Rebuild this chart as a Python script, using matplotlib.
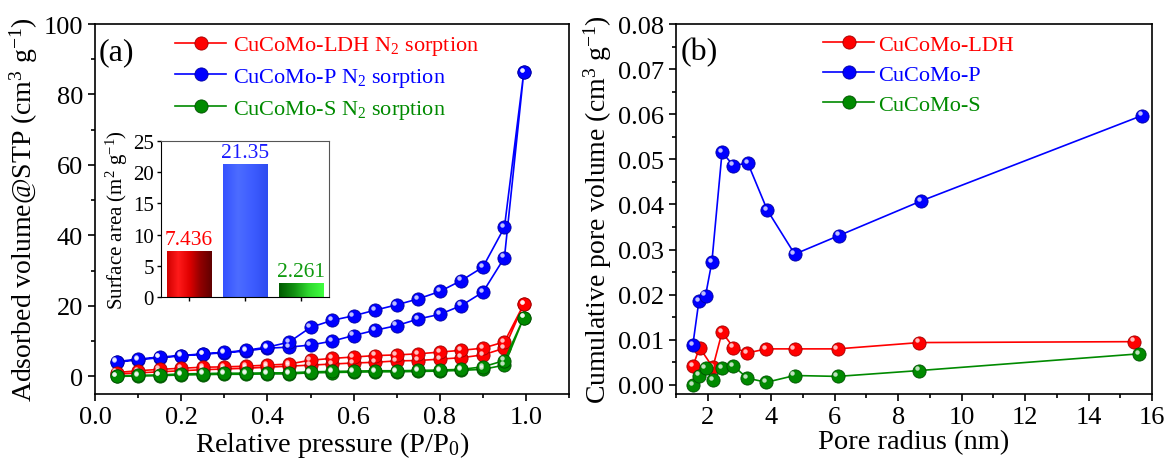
import numpy as np
import matplotlib
matplotlib.use("Agg")
import matplotlib.pyplot as plt
from matplotlib.ticker import MultipleLocator, FormatStrFormatter
from matplotlib.colors import LinearSegmentedColormap
from matplotlib.transforms import offset_copy

plt.rcParams["font.family"] = ["Liberation Serif", "DejaVu Serif"]
plt.rcParams["mathtext.fontset"] = "custom"
plt.rcParams["mathtext.rm"] = "Liberation Serif"
plt.rcParams["mathtext.it"] = "Liberation Serif:italic"

# ================================
# DATA (a) N2 sorption isotherms
# ================================
p_rel = [0.05, 0.10, 0.15, 0.20, 0.25, 0.30, 0.35, 0.40, 0.45, 0.50,
         0.55, 0.60, 0.65, 0.70, 0.75, 0.80, 0.85, 0.90, 0.95, 0.995]

ldh_ads = [0.6, 1.0, 1.3, 1.6, 1.9, 2.1, 2.3, 2.6, 2.9, 3.2,
           3.5, 3.8, 4.0, 4.4, 4.5, 4.9, 5.3, 6.1, 8.0, 20.5]
ldh_des = [1.1, 1.6, 2.0, 2.3, 2.6, 2.7, 2.9, 3.2, 3.5, 4.6,
           5.1, 5.5, 5.9, 6.1, 6.4, 6.9, 7.4, 8.0, 9.8, 20.5]

p_ads = [4.0, 4.7, 5.3, 5.8, 6.3, 6.7, 7.2, 8.0, 8.3, 8.9,
         10.0, 11.6, 13.1, 14.4, 16.3, 17.6, 20.1, 23.9, 33.7, 86.4]
p_des = [4.2, 4.9, 5.5, 5.9, 6.4, 6.8, 7.4, 8.3, 9.7, 13.9,
         15.9, 17.2, 18.8, 20.3, 22.0, 24.1, 27.2, 31.0, 42.3, 86.4]

s_ads = [0.0, 0.1, 0.2, 0.4, 0.5, 0.6, 0.6, 0.7, 0.7, 1.0,
         1.1, 1.2, 1.3, 1.3, 1.4, 1.5, 1.7, 2.0, 3.2, 16.7]
s_des = [0.1, 0.3, 0.4, 0.7, 0.8, 0.9, 0.9, 1.0, 1.0, 1.3,
         1.4, 1.5, 1.6, 1.6, 1.7, 1.8, 2.0, 2.7, 4.5, 16.7]

# inset: BET surface area
samples = ["CuCoMo-LDH", "CuCoMo-P", "CuCoMo-S"]
surface_area = [7.436, 21.35, 2.261]
area_labels = ["7.436", "21.35", "2.261"]

# ================================
# DATA (b) cumulative pore volume
# ================================
r_ldh = [1.53, 1.74, 2.16, 2.45, 2.81, 3.25, 3.85, 4.74, 6.09, 8.67, 15.43]
v_ldh = [0.0041, 0.0083, 0.0039, 0.0117, 0.0083, 0.0071, 0.0080, 0.0080, 0.0080, 0.0094, 0.0096]

r_p = [1.53, 1.72, 1.93, 2.13, 2.45, 2.81, 3.26, 3.88, 4.74, 6.13, 8.73, 15.68]
v_p = [0.0089, 0.0186, 0.0198, 0.0273, 0.0516, 0.0486, 0.0492, 0.0387, 0.0290, 0.0331, 0.0408, 0.0597]

r_s = [1.53, 1.72, 1.93, 2.16, 2.45, 2.81, 3.25, 3.85, 4.74, 6.09, 8.67, 15.59]
v_s = [0.0000, 0.0021, 0.0037, 0.0010, 0.0037, 0.0042, 0.0015, 0.0006, 0.0021, 0.0019, 0.0032, 0.0069]

RED, BLUE, GREEN = "#ff0000", "#0000ff", "#008a00"
EDGE = {RED: "#a00000", BLUE: "#0000a0", GREEN: "#005000"}


def balls(ax, x, y, color, label=None, z=3):
    # line + sphere-looking markers
    ln, = ax.plot(x, y, "-o", color=color, lw=1.2, ms=9.5, mfc=color,
                  mec=EDGE[color], mew=0.6, label=label, zorder=z)
    hl = offset_copy(ax.transData, fig=fig, x=-1.6, y=1.6, units="points")
    ax.plot(x, y, "o", ms=3.2, color="white", alpha=0.75, mec="none",
            transform=hl, zorder=z + 0.1)
    return ln


def style(ax):
    for s in ax.spines.values():
        s.set_linewidth(1.2)
    ax.tick_params(which="both", direction="out", top=False, right=False,
                   width=1.2, labelsize=19)
    ax.tick_params(which="major", length=5)
    ax.tick_params(which="minor", length=3)


fig = plt.figure(figsize=(11.69, 4.64), dpi=100)

# ================================
# PANEL (a)
# ================================
ax1 = fig.add_axes([0.0813, 0.1487, 0.4055, 0.7974])
loop_x = p_rel + p_rel[::-1]
h_p = balls(ax1, loop_x, p_ads + p_des[::-1], BLUE, "CuCoMo-P N$_2$ sorption", z=3)
h_l = balls(ax1, loop_x, ldh_ads + ldh_des[::-1], RED, "CuCoMo-LDH N$_2$ sorption", z=4)
h_s = balls(ax1, loop_x, s_ads + s_des[::-1], GREEN, "CuCoMo-S N$_2$ sorption", z=5)

ax1.set_xlim(0, 1.1)
ax1.set_ylim(-5, 100)
ax1.xaxis.set_minor_locator(MultipleLocator(0.1))
ax1.yaxis.set_major_locator(MultipleLocator(20))
ax1.yaxis.set_minor_locator(MultipleLocator(10))
ax1.set_xticks([0.0, 0.2, 0.4, 0.6, 0.8, 1.0])
ax1.set_xticklabels(["0.0", "0.2", "0.4", "0.6", "0.8", "1.0"])
style(ax1)
ax1.set_xlabel("Relative pressure (P/P$_0$)", fontsize=20.5, labelpad=1)
ax1.set_ylabel("Adsorbed volume@STP (cm$^3$ g$^{-1}$)", fontsize=20, labelpad=3)
ax1.text(0.008, 0.925, "(a)", transform=ax1.transAxes, fontsize=23,
         ha="left", va="center")

leg1 = ax1.legend(handles=[h_l, h_p, h_s], loc="upper left",
                  bbox_to_anchor=(0.16, 0.984), frameon=False, fontsize=16,
                  handlelength=2.3, handletextpad=0.3, labelspacing=0.39,
                  borderpad=0.2, borderaxespad=0)
for t, c in zip(leg1.get_texts(), [RED, BLUE, GREEN]):
    t.set_color(c)

# inset bar chart
axin = fig.add_axes([0.1377, 0.3578, 0.1437, 0.3362])
grads = [["#d00000", "#ff1a1a", "#e00000", "#900000", "#600000"],
         ["#3552ff", "#4c6cff", "#3d5cff", "#2e4cf0"],
         ["#005a00", "#129012", "#2fd82f", "#40ff40"]]
pos = [1, 2, 3]
for xi, h, cols in zip(pos, surface_area, grads):
    b = axin.bar(xi, h, width=0.8, color="none", edgecolor="none")[0]
    im = axin.imshow(np.linspace(0, 1, 200).reshape(1, -1),
                     cmap=LinearSegmentedColormap.from_list("g", cols),
                     extent=(xi - 0.4, xi + 0.4, 0, h), aspect="auto", zorder=2)
    im.set_clip_path(b)
for xi, h, lab, c in zip(pos, surface_area, area_labels, [RED, "#1a1aff", "#109a10"]):
    axin.text(xi, h + 0.3, lab, color=c, fontsize=15.5, ha="center", va="bottom",
              zorder=4)
axin.set_xlim(0.5, 3.5)
axin.set_ylim(0, 25)
axin.set_xticks(pos)
axin.set_xticklabels([])
axin.yaxis.set_major_locator(MultipleLocator(5))
for s in axin.spines.values():
    s.set_linewidth(0.8)
    s.set_color("#555555")
axin.spines["left"].set_color("black")
axin.spines["bottom"].set_color("black")
axin.tick_params(direction="out", labelsize=15, length=3, width=1.0,
                 top=False, right=False, pad=2)
axin.set_ylabel("Surface area (m$^2$ g$^{-1}$)", fontsize=15, labelpad=2)

# ================================
# PANEL (b)
# ================================
ax2 = fig.add_axes([0.5783, 0.1487, 0.4072, 0.7974])
h_bl = balls(ax2, r_ldh, v_ldh, RED, "CuCoMo-LDH", z=3)
h_bs = balls(ax2, r_s, v_s, GREEN, "CuCoMo-S", z=4)
h_bp = balls(ax2, r_p, v_p, BLUE, "CuCoMo-P", z=5)

ax2.set_xlim(1, 16)
ax2.set_ylim(-0.002, 0.08)
ax2.xaxis.set_minor_locator(MultipleLocator(1))
ax2.yaxis.set_major_locator(MultipleLocator(0.01))
ax2.yaxis.set_minor_locator(MultipleLocator(0.005))
ax2.yaxis.set_major_formatter(FormatStrFormatter("%.2f"))
ax2.set_xticks([2, 4, 6, 8, 10, 12, 14, 16])
style(ax2)
ax2.set_xlabel("Pore radius (nm)", fontsize=20.5, labelpad=1)
ax2.set_ylabel("Cumulative pore volume (cm$^3$ g$^{-1}$)", fontsize=20, labelpad=3)
ax2.text(0.01, 0.925, "(b)", transform=ax2.transAxes, fontsize=23,
         ha="left", va="center")

leg2 = ax2.legend(handles=[h_bl, h_bp, h_bs], loc="upper left",
                  bbox_to_anchor=(0.3, 0.984), frameon=False, fontsize=16,
                  handlelength=2.3, handletextpad=0.15, labelspacing=0.42,
                  borderpad=0.2, borderaxespad=0)
for t, c in zip(leg2.get_texts(), [RED, BLUE, GREEN]):
    t.set_color(c)

fig.savefig("out.png", dpi=100)
